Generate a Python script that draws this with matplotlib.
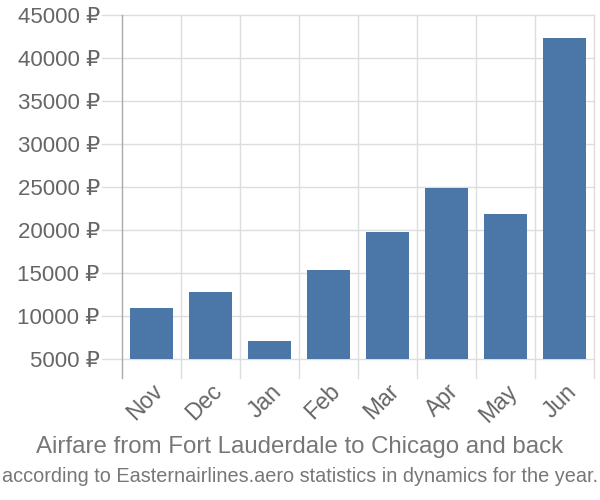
import matplotlib
matplotlib.use('Agg')
import matplotlib.pyplot as plt

plt.rcParams['font.family'] = ['Liberation Sans', 'DejaVu Sans']

months = ['Nov', 'Dec', 'Jan', 'Feb', 'Mar', 'Apr', 'May', 'Jun']
prices = [10950, 12800, 7100, 15350, 19780, 24880, 21870, 42320]
yticks = [5000, 10000, 15000, 20000, 25000, 30000, 35000, 40000, 45000]
ytick_labels = ['%d ₽' % v for v in yticks]

fig = plt.figure(figsize=(6, 5), dpi=100)
ax = fig.add_axes([122/600, 1-359/500, 472/600, 344/500])

x = list(range(len(months)))
ax.bar(x, [p - 5000 for p in prices], bottom=5000, width=0.72,
       color='#4a76a8', zorder=3)

ax.set_xlim(-0.5, len(months) - 0.5)
ax.set_ylim(5000, 45000)
for s in ax.spines.values():
    s.set_visible(False)

grid_c = '#dddddd'
for v in yticks:
    ax.axhline(v, xmin=-20/472, xmax=1, color=grid_c, lw=1, clip_on=False, zorder=1)
for i in range(1, len(months) + 1):
    ax.axvline(i - 0.5, ymin=-19/344, ymax=1, color=grid_c, lw=1, clip_on=False, zorder=1)
ax.axvline(-0.5, ymin=-19/344, ymax=1, color='#aaaaaa', lw=1, clip_on=False, zorder=2)

ax.set_yticks(yticks)
ax.set_yticklabels(ytick_labels)
ax.tick_params(axis='y', length=0, pad=16, labelsize=16, labelcolor='#666666')
ax.set_xticks(x)
ax.set_xticklabels(months, rotation=45, ha='right', rotation_mode='anchor')
ax.tick_params(axis='x', length=0, pad=15, labelsize=16.5, labelcolor='#666666')

fig.text(0.5, 1-447/500, 'Airfare from Fort Lauderdale to Chicago and back',
         ha='center', va='center', fontsize=17.3, color='#777777')
fig.text(0.5, 1-477/500, 'according to Easternairlines.aero statistics in dynamics for the year.',
         ha='center', va='center', fontsize=14.3, color='#777777')

fig.savefig('out.png', dpi=100)
